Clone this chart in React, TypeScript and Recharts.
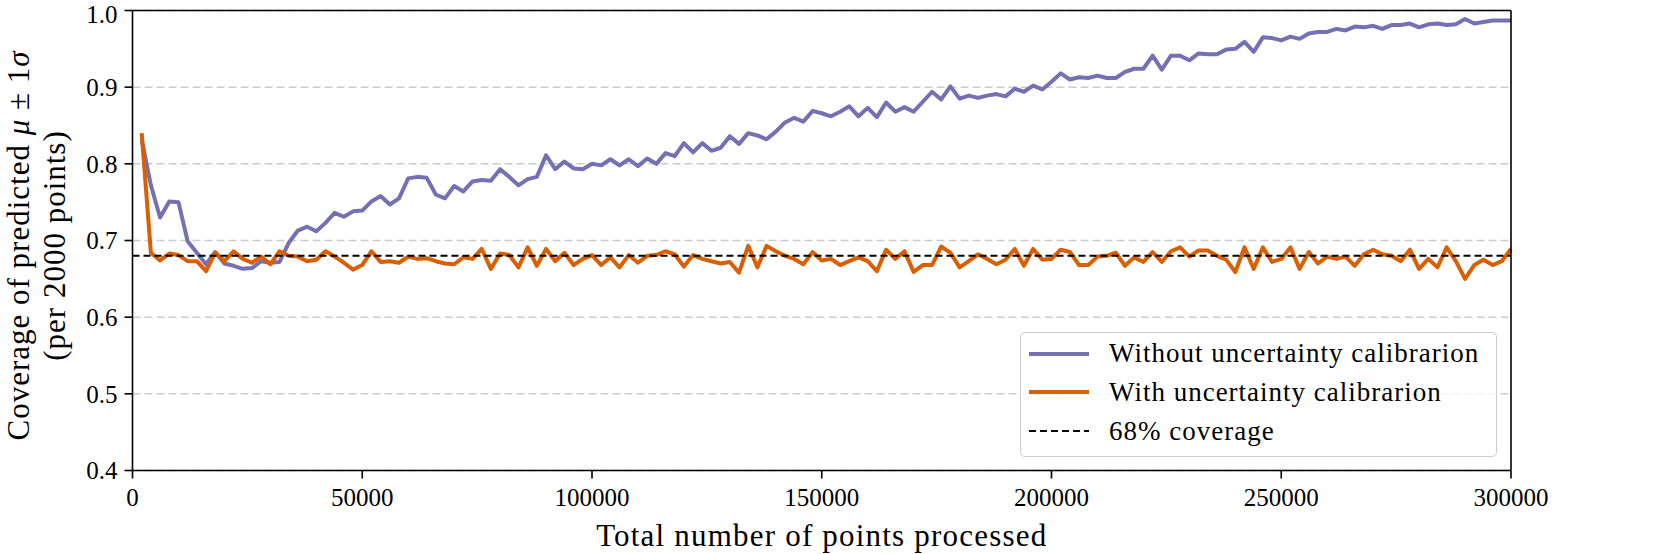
import React from "react";
import {
  LineChart,
  Line,
  XAxis,
  YAxis,
  CartesianGrid,
  ReferenceLine,
  Legend,
} from "recharts";

const FONT = '"Liberation Serif", "DejaVu Serif", serif';
const PURPLE = "#7570b3";
const ORANGE = "#d95f02";

// coverage measured every 2000 points, from 2000 up to 300000
const STEP = 2000;

const withoutCalibration = [
  0.832, 0.772, 0.73, 0.751, 0.75, 0.699, 0.684, 0.669, 0.685, 0.67,
  0.667, 0.663, 0.664, 0.673, 0.671, 0.672, 0.697, 0.713, 0.718, 0.712,
  0.723, 0.736, 0.731, 0.738, 0.739, 0.751, 0.758, 0.747, 0.755, 0.781,
  0.783, 0.782, 0.76, 0.755, 0.771, 0.764, 0.777, 0.779, 0.778, 0.793,
  0.783, 0.772, 0.78, 0.783, 0.811, 0.793, 0.803, 0.794, 0.793, 0.8,
  0.798, 0.806, 0.798, 0.806, 0.797, 0.807, 0.8, 0.814, 0.81, 0.827,
  0.815, 0.827, 0.817, 0.821, 0.836, 0.826, 0.84, 0.837, 0.832, 0.842,
  0.854, 0.86, 0.855, 0.869, 0.866, 0.862, 0.868, 0.875, 0.862, 0.873,
  0.861, 0.88, 0.868, 0.874, 0.868, 0.881, 0.894, 0.884, 0.901, 0.885,
  0.889, 0.886, 0.889, 0.891, 0.888, 0.898, 0.894, 0.902, 0.897, 0.907,
  0.918, 0.91, 0.913, 0.912, 0.915, 0.912, 0.912, 0.92, 0.924, 0.924,
  0.941, 0.923, 0.941, 0.941, 0.935, 0.944, 0.943, 0.943, 0.949, 0.95,
  0.959, 0.946, 0.965, 0.964, 0.961, 0.966, 0.963, 0.97, 0.972, 0.972,
  0.976, 0.974, 0.979, 0.978, 0.98, 0.976, 0.981, 0.981, 0.983, 0.978,
  0.982, 0.983, 0.981, 0.982, 0.989, 0.983, 0.985, 0.987, 0.987, 0.987,
];

const withCalibration = [
  0.84, 0.684, 0.674, 0.683, 0.681, 0.673, 0.673, 0.66, 0.684, 0.673,
  0.686, 0.676, 0.671, 0.679, 0.669, 0.686, 0.68, 0.679, 0.673, 0.675,
  0.686, 0.679, 0.671, 0.662, 0.668, 0.686, 0.672, 0.673, 0.671, 0.679,
  0.676, 0.677, 0.673, 0.67, 0.669, 0.678, 0.676, 0.689, 0.663, 0.683,
  0.681, 0.665, 0.691, 0.667, 0.689, 0.673, 0.684, 0.668, 0.676, 0.681,
  0.668, 0.678, 0.665, 0.681, 0.671, 0.68, 0.681, 0.686, 0.682, 0.666,
  0.681, 0.676, 0.673, 0.67, 0.672, 0.658, 0.693, 0.665, 0.693, 0.686,
  0.68, 0.676, 0.669, 0.685, 0.674, 0.676, 0.668, 0.673, 0.678, 0.673,
  0.66, 0.688, 0.676, 0.686, 0.659, 0.668, 0.668, 0.692, 0.684, 0.665,
  0.673, 0.682, 0.676, 0.669, 0.675, 0.689, 0.667, 0.689, 0.675, 0.676,
  0.688, 0.685, 0.668, 0.668, 0.679, 0.68, 0.684, 0.667, 0.678, 0.672,
  0.685, 0.672, 0.686, 0.691, 0.679, 0.687, 0.687, 0.68, 0.675, 0.659,
  0.691, 0.663, 0.691, 0.672, 0.676, 0.691, 0.663, 0.685, 0.67, 0.679,
  0.676, 0.679, 0.667, 0.682, 0.688, 0.682, 0.68, 0.673, 0.688, 0.663,
  0.676, 0.665, 0.691, 0.673, 0.65, 0.668, 0.675, 0.668, 0.673, 0.689,
];

const TARGET_COVERAGE = 0.68;
const xTicks = [0, 50000, 100000, 150000, 200000, 250000, 300000];
const yTicks = [0.4, 0.5, 0.6, 0.7, 0.8, 0.9, 1.0];

const legendItems = [
  { label: "Without uncertainty calibrarion", color: PURPLE, dash: undefined, width: 4 },
  { label: "With uncertainty calibrarion", color: ORANGE, dash: undefined, width: 4 },
  { label: "68% coverage", color: "#000000", dash: "7 4", width: 2 },
];

const rows = withoutCalibration.map((v, i) => ({
  x: (i + 1) * STEP,
  without: v,
  with: withCalibration[i],
}));

const W = 1661;
const H = 554;
const MARGIN = { top: 10.5, right: 150, bottom: 0, left: 0 };
const Y_AXIS_W = 132.5;
const X_AXIS_H = 83.5;

function LegendBox() {
  return (
    <div
      style={{
        width: 477,
        height: 125,
        boxSizing: "border-box",
        border: "1.5px solid #cccccc",
        borderRadius: 5,
        background: "rgba(255,255,255,0.8)",
        fontFamily: FONT,
        fontSize: 27,
        letterSpacing: 1,
        color: "#000",
        position: "relative",
      }}
    >
      {legendItems.map((item, i) => (
        <div
          key={item.label}
          style={{
            position: "absolute",
            left: 8,
            top: 21 + i * 38.7 - 19,
            height: 38,
            display: "flex",
            alignItems: "center",
            whiteSpace: "nowrap",
          }}
        >
          <svg width={60} height={10} style={{ display: "block" }}>
            <line
              x1={0}
              x2={60}
              y1={5}
              y2={5}
              stroke={item.color}
              strokeWidth={item.width}
              strokeDasharray={item.dash}
            />
          </svg>
          <span style={{ marginLeft: 20, lineHeight: 1 }}>{item.label}</span>
        </div>
      ))}
    </div>
  );
}

function renderYLabel() {
  const cy = (MARGIN.top + (H - X_AXIS_H)) / 2 + 5;
  return (
    <g fontFamily={FONT} fontSize={31} fill="#000" letterSpacing={1}>
      <text transform={`translate(29, ${cy}) rotate(-90)`} textAnchor="middle">
        Coverage of predicted <tspan fontStyle="italic">μ</tspan> ± 1
        <tspan fontStyle="italic">σ</tspan>
      </text>
      <text transform={`translate(65, ${cy}) rotate(-90)`} textAnchor="middle">
        (per 2000 points)
      </text>
    </g>
  );
}

function renderXLabel(props: any) {
  const vb = props.viewBox || {};
  const cx = (vb.x ?? Y_AXIS_W) + (vb.width ?? 0) / 2;
  return (
    <text
      x={cx}
      y={546}
      textAnchor="middle"
      fontFamily={FONT}
      fontSize={31}
      letterSpacing={1.2}
      fill="#000"
    >
      Total number of points processed
    </text>
  );
}

export default function App() {
  const tickStyle = { fill: "#000", fontSize: 25, fontFamily: FONT };
  return (
    <div style={{ position: "absolute", left: 0, top: 0, background: "#fff" }}>
      <LineChart width={W} height={H} data={rows} margin={MARGIN}>
        <CartesianGrid
          vertical={false}
          stroke="#cccccc"
          strokeWidth={1.5}
          strokeDasharray="8 4"
        />
        <XAxis
          dataKey="x"
          type="number"
          domain={[0, 300000]}
          ticks={xTicks}
          height={X_AXIS_H}
          tickSize={8}
          tickMargin={10}
          tick={tickStyle}
          axisLine={{ stroke: "#000", strokeWidth: 1.6 }}
          tickLine={{ stroke: "#000", strokeWidth: 1.6 }}
          label={{ content: renderXLabel }}
        />
        <YAxis
          type="number"
          domain={[0.4, 1.0]}
          ticks={yTicks}
          width={Y_AXIS_W}
          tickSize={8}
          tickMargin={7}
          tick={tickStyle}
          tickFormatter={(v: number) => v.toFixed(1)}
          axisLine={{ stroke: "#000", strokeWidth: 1.6 }}
          tickLine={{ stroke: "#000", strokeWidth: 1.6 }}
          label={{ content: renderYLabel }}
        />
        <Line
          dataKey="without"
          type="linear"
          stroke={PURPLE}
          strokeWidth={4}
          strokeLinejoin="round"
          dot={false}
          isAnimationActive={false}
        />
        <Line
          dataKey="with"
          type="linear"
          stroke={ORANGE}
          strokeWidth={4}
          strokeLinejoin="round"
          dot={false}
          isAnimationActive={false}
        />
        <ReferenceLine
          y={TARGET_COVERAGE}
          stroke="#000"
          strokeWidth={2}
          strokeDasharray="7 4"
        />
        <ReferenceLine y={1.0} stroke="#000" strokeWidth={1.6} />
        <ReferenceLine x={300000} stroke="#000" strokeWidth={1.6} />
        <Legend
          layout="vertical"
          align="center"
          verticalAlign="middle"
          content={() => <LegendBox />}
          wrapperStyle={{ left: 1020, top: 331.7, width: 477, height: 125 }}
        />
      </LineChart>
    </div>
  );
}
